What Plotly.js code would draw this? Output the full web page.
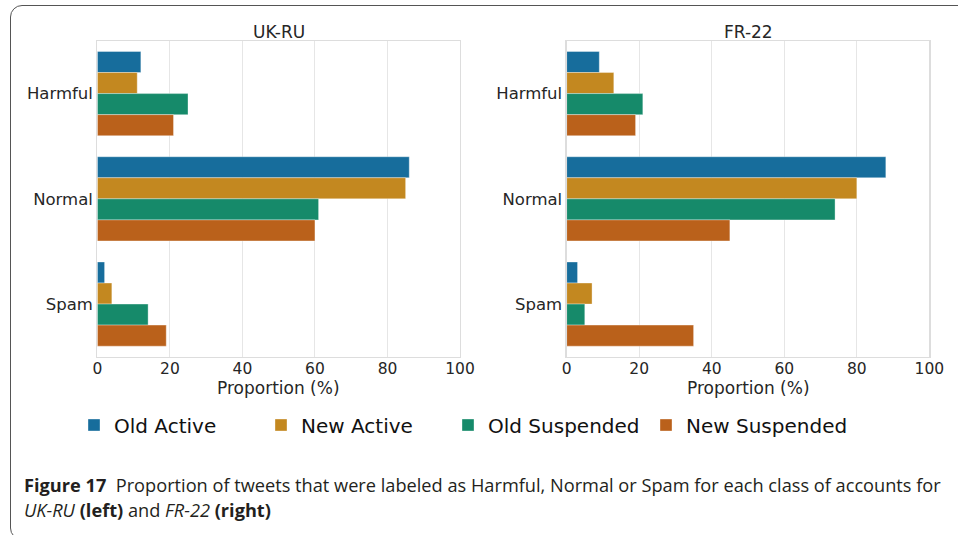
<!DOCTYPE html>
<html>
<head>
<meta charset="utf-8">
<script src="https://cdn.plot.ly/plotly-3.0.1.min.js"></script>
<style>
  body { margin: 0; background: #fff; }
  #wrap { position: relative; width: 958px; height: 535px; overflow: hidden; }
  #frame { position: absolute; left: 10px; top: 5px; width: 1000px; height: 533px;
           border: 1.5px solid #555; border-radius: 12px; pointer-events: none; }
</style>
</head>
<body>
<div id="wrap">
  <div id="chart" style="width:958px;height:535px;"></div>
  <div id="frame"></div>
</div>
<script>
// categories and series
const categories = ["Harmful", "Normal", "Spam"];
const seriesNames = ["Old Active", "New Active", "Old Suspended", "New Suspended"];
const seriesColors = ["#176d9c", "#c38820", "#168a6a", "#ba611b"];

// UK-RU proportions (%), order: Harmful, Normal, Spam
const ukruOldActive = [12, 86, 2];
const ukruNewActive = [11, 85, 4];
const ukruOldSuspended = [25, 61, 14];
const ukruNewSuspended = [21, 60, 19];

// FR-22 proportions (%)
const fr22OldActive = [9, 88, 3];
const fr22NewActive = [13, 80, 7];
const fr22OldSuspended = [21, 74, 5];
const fr22NewSuspended = [19, 45, 35];

const xTicks = [0, 20, 40, 60, 80, 100];

const ukru = [ukruOldActive, ukruNewActive, ukruOldSuspended, ukruNewSuspended];
const fr22 = [fr22OldActive, fr22NewActive, fr22OldSuspended, fr22NewSuspended];

// one legend per series so each entry sits where the original has it
const legendIds = ["legend", "legend2", "legend3", "legend4"];
const legendX = [74, 261, 448, 646];

const data = [];
function addTraces(values, xa, ya, showLegend) {
  values.forEach(function (vals, i) {
    data.push({
      type: "bar",
      orientation: "h",
      name: seriesNames[i],
      legendgroup: seriesNames[i],
      legend: legendIds[i],
      showlegend: showLegend,
      x: vals,
      y: categories,
      xaxis: xa,
      yaxis: ya,
      marker: { color: seriesColors[i], line: { color: "rgba(255,255,255,0.35)", width: 1 } },
      hoverinfo: "x+y+name"
    });
  });
}
addTraces(ukru, "x", "y", true);
addTraces(fr22, "x2", "y2", false);

function xAxis(domain, anchor) {
  return {
    domain: domain, anchor: anchor, range: [0, 100], tickvals: xTicks,
    showgrid: true, gridcolor: "#e6e6e6", gridwidth: 1, zeroline: false,
    showline: true, mirror: true, linecolor: "#dddddd", linewidth: 1.2,
    ticks: "", ticklabelstandoff: -2,
    tickfont: { family: "DejaVu Sans", size: 15.5, color: "#262626" }, fixedrange: true
  };
}
function yAxis(anchor) {
  return {
    domain: [0.3333, 0.9234], anchor: anchor, type: "category",
    categoryorder: "array", categoryarray: categories, range: [2.5, -0.5],
    showgrid: false, zeroline: false, showline: true, mirror: true,
    linecolor: "#dddddd", linewidth: 1.2, ticks: "",
    tickfont: { family: "DejaVu Sans", size: 16.5, color: "#262626" }, fixedrange: true
  };
}

const layout = {
  width: 958, height: 535,
  margin: { l: 0, r: 0, t: 0, b: 0 },
  paper_bgcolor: "#ffffff", plot_bgcolor: "#ffffff",
  font: { family: "DejaVu Sans", color: "#262626" },
  barmode: "group", bargap: 0.2, bargroupgap: 0,
  xaxis: xAxis([0.1016, 0.4802], "y"),
  yaxis: yAxis("x"),
  xaxis2: xAxis([0.5915, 0.9701], "y2"),
  yaxis2: yAxis("x2"),
  annotations: [
    { text: "UK-RU", xref: "paper", yref: "paper", x: 278.7 / 958, y: 1 - 32 / 535,
      xanchor: "center", yanchor: "middle", showarrow: false,
      font: { family: "DejaVu Sans", size: 17, color: "#262626" } },
    { text: "FR-22", xref: "paper", yref: "paper", x: 748 / 958, y: 1 - 32 / 535,
      xanchor: "center", yanchor: "middle", showarrow: false,
      font: { family: "DejaVu Sans", size: 17, color: "#262626" } },
    { text: "Proportion (%)", xref: "paper", yref: "paper", x: 278.7 / 958, y: 1 - 388 / 535,
      xanchor: "center", yanchor: "middle", showarrow: false,
      font: { family: "DejaVu Sans", size: 17, color: "#262626" } },
    { text: "Proportion (%)", xref: "paper", yref: "paper", x: 748 / 958, y: 1 - 388 / 535,
      xanchor: "center", yanchor: "middle", showarrow: false,
      font: { family: "DejaVu Sans", size: 17, color: "#262626" } },
    { text: "<b>Figure 17</b>&nbsp; Proportion of tweets that were labeled as Harmful, Normal or Spam for each class of accounts for",
      xref: "paper", yref: "paper", x: 22 / 958, y: 1 - 485 / 535,
      xanchor: "left", yanchor: "middle", showarrow: false, align: "left",
      font: { family: "Open Sans", size: 18.2, color: "#231f20" } },
    { text: "<i>UK-RU</i> <b>(left)</b> and <i>FR-22</i> <b>(right)</b>",
      xref: "paper", yref: "paper", x: 22 / 958, y: 1 - 510 / 535,
      xanchor: "left", yanchor: "middle", showarrow: false, align: "left",
      font: { family: "Open Sans", size: 18.2, color: "#231f20" } }
  ]
};

legendIds.forEach(function (id, i) {
  layout[id] = {
    orientation: "h", x: legendX[i] / 958, xanchor: "left", y: 1 - 425 / 535, yanchor: "middle",
    font: { family: "DejaVu Sans", size: 20, color: "#111111" },
    bgcolor: "rgba(0,0,0,0)"
  };
});

Plotly.newPlot("chart", data, layout, { displayModeBar: false, staticPlot: true });
</script>
</body>
</html>
